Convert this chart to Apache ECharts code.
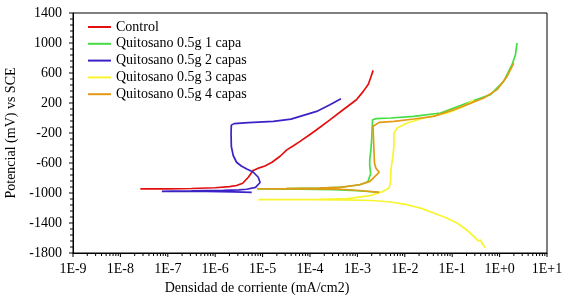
<!DOCTYPE html>
<html>
<head>
<meta charset="utf-8">
<script src="https://cdn.jsdelivr.net/npm/echarts@6/dist/echarts.min.js"></script>
<style>
  html, body { margin: 0; padding: 0; background: #fff; }
  #chart { width: 564px; height: 295px; }
</style>
</head>
<body>
<div id="chart"></div>
<script>
// series names
const names = ['Control', 'Quitosano 0.5g 1 capa', 'Quitosano 0.5g 2 capas', 'Quitosano 0.5g 3 capas', 'Quitosano 0.5g 4 capas']
const colors = ['#e30f0f', '#44dd44', '#3a22c6', '#f8f52e', '#e49a14']

// current density (mA/cm2) and potential (mV)
const controlI = [2.63e-8, 1.0e-7, 3.16e-7, 1.0e-6, 2.0e-6, 2.82e-6, 3.8e-6, 5.0e-6, 6.3e-6, 7.9e-6, 1.12e-5, 1.58e-5, 2.34e-5, 3.24e-5, 4.47e-5, 6.17e-5, 1.0e-4, 1.38e-4, 2.63e-4, 5.0e-4, 9.55e-4, 1.33e-3, 1.7e-3, 1.91e-3, 2.15e-3]
const controlE = [-945, -944, -940, -930, -915, -900, -870, -790, -700, -672, -640, -590, -510, -425, -370, -312, -220, -156, -25, 110, 244, 355, 450, 540, 635]

const capa1I = [2.82e-3, 1.0e-3, 3.16e-4, 6.3e-5, 7.9e-6, 3.16e-5, 1.58e-4, 5.0e-4, 1.12e-3, 1.66e-3, 1.91e-3, 1.82e-3, 1.82e-3, 1.91e-3, 2.0e-3, 2.04e-3, 2.09e-3, 2.5e-3, 5.0e-3, 1.55e-2, 5.66e-2, 0.206, 0.641, 1.22, 1.83, 2.16, 2.33]
const capa1E = [-990, -970, -955, -948, -945, -942, -935, -920, -890, -850, -740, -640, -556, -450, -289, -150, -23, -9, 0, 22, 67, 200, 311, 488, 711, 844, 1000]

const capa2I = [5.9e-6, 2.5e-6, 6.3e-7, 2.0e-7, 7.5e-8, 1.26e-7, 3.16e-7, 6.6e-7, 1.48e-6, 3.16e-6, 4.63e-6, 7.1e-6, 8.85e-6, 8.1e-6, 6.3e-6, 4.63e-6, 3.55e-6, 2.82e-6, 2.4e-6, 2.19e-6, 2.16e-6, 2.19e-6, 2.5e-6, 5.0e-6, 1.69e-5, 3.98e-5, 6.17e-5, 1.38e-4, 2.63e-4, 4.5e-4]
const capa2E = [-992, -985, -980, -979, -978, -975, -972, -968, -965, -958, -950, -925, -860, -790, -720, -680, -640, -590, -500, -380, -200, -95, -75, -62, -45, -15, 22, 88, 178, 257]

const capa3I = [0.5, 0.417, 0.398, 0.355, 0.286, 0.2, 0.127, 0.0741, 0.0407, 0.0224, 0.0112, 5.0e-3, 2.0e-3, 5.0e-4, 1.0e-4, 2.5e-5, 8.1e-6, 3.16e-5, 1.58e-4, 6.3e-4, 1.84e-3, 3.5e-3, 4.68e-3, 5.0e-3, 5.1e-3, 5.6e-3, 5.9e-3, 5.9e-3, 6.9e-3, 0.0112, 0.0251, 0.0782, 0.176, 0.286]
const capa3E = [-1733, -1660, -1628, -1638, -1578, -1490, -1400, -1330, -1267, -1205, -1156, -1120, -1100, -1092, -1090, -1089, -1089, -1087, -1085, -1075, -1036, -978, -933, -845, -689, -512, -378, -200, -133, -67, 0, 67, 155, 244]

const capa4I = [2.88e-3, 1.12e-3, 4.27e-4, 1.0e-4, 2.5e-5, 7.6e-6, 3.16e-5, 1.58e-4, 4.27e-4, 1.12e-3, 1.84e-3, 2.34e-3, 2.88e-3, 2.45e-3, 2.29e-3, 2.24e-3, 2.19e-3, 2.14e-3, 2.88e-3, 5.9e-3, 1.55e-2, 4.07e-2, 0.108, 0.206, 0.465, 0.885, 1.44, 1.99]
const capa4E = [-992, -967, -950, -947, -945, -943, -940, -935, -925, -890, -845, -778, -725, -667, -600, -450, -289, -111, -58, -45, -13, 22, 111, 178, 267, 378, 555, 733]

// axis ticks
const yTicks = [-1800, -1400, -1000, -600, -200, 200, 600, 1000, 1400]
const yMinorStep = 80
const xDecades = [1e-9, 1e-8, 1e-7, 1e-6, 1e-5, 1e-4, 1e-3, 1e-2, 1e-1, 1, 10]
const xMinorMult = [1, 2, 3, 4, 5, 6, 7, 8, 9]

const seriesI = [controlI, capa1I, capa2I, capa3I, capa4I]
const seriesE = [controlE, capa1E, capa2E, capa3E, capa4E]

const xMin = xDecades[0]
const yMin = yTicks[0]

// tick marks as small rect symbols placed on the axes through the scales
const tickData = []
for (let v = yTicks[0]; v <= yTicks[yTicks.length - 1]; v += yMinorStep) {
  const len = yTicks.includes(v) ? 4 : 3
  tickData.push({ value: [xMin, v], symbolSize: [len, 1], symbolOffset: [-len / 2, 0] })
}
const xTickValues = []
xDecades.slice(0, -1).forEach(d => xMinorMult.forEach(k => xTickValues.push([+(d * k).toPrecision(3), k === 1])))
xTickValues.push([xDecades[xDecades.length - 1], true])
xTickValues.forEach(([v, major]) => {
  const len = major ? 4 : 3
  tickData.push({ value: [v, yMin], symbolSize: [1, len], symbolOffset: [0, len / 2] })
})

const font = "'Liberation Serif', 'Times New Roman', serif"
const chart = echarts.init(document.getElementById('chart'))

chart.setOption({
  animation: false,
  grid: {
    left: 73, right: 17, top: 13, bottom: 42,
    show: true, borderColor: '#000', borderWidth: 1,
    outerBoundsMode: 'none'
  },
  legend: {
    orient: 'vertical',
    left: 87, top: 20, padding: 0,
    itemWidth: 23, itemHeight: 14, itemGap: 2.8,
    itemStyle: { opacity: 0 },
    lineStyle: { width: 2 },
    textStyle: { fontFamily: font, fontSize: 14, color: '#000' },
    data: names
  },
  xAxis: {
    type: 'log', logBase: 10, min: 1e-9, max: 10, splitNumber: 10,
    name: 'Densidad de corriente (mA/cm2)',
    nameLocation: 'middle', nameGap: 26,
    nameTextStyle: { fontFamily: font, fontSize: 14, color: '#000', padding: [0, 106, 0, 0] },
    axisLine: { show: true, onZero: false, lineStyle: { color: '#000', width: 1 } },
    axisTick: { show: false },
    axisLabel: {
      margin: 9, fontFamily: font, fontSize: 14, color: '#000',
      formatter: v => {
        const e = Math.round(Math.log10(v))
        return '1E' + (e >= 0 ? '+' : '') + e
      }
    },
    splitLine: { show: false }
  },
  yAxis: {
    type: 'value', min: -1800, max: 1400,
    name: 'Potencial (mV) vs SCE',
    nameLocation: 'middle', nameGap: 50, nameRotate: 90,
    nameTextStyle: { fontFamily: font, fontSize: 14, color: '#000' },
    axisLine: { show: true, onZero: false, lineStyle: { color: '#000', width: 1 } },
    axisTick: { show: false },
    axisLabel: {
      margin: 11, customValues: yTicks, fontFamily: font, fontSize: 14, color: '#000',
      formatter: v => String(v)
    },
    splitLine: { show: false }
  },
  series: names.map((name, s) => ({
    name,
    type: 'line',
    symbol: 'none',
    color: colors[s],
    lineStyle: { width: 1.7, color: colors[s] },
    data: seriesI[s].map((v, i) => [v, seriesE[s][i]])
  })).concat([{
    name: 'ticks',
    type: 'scatter',
    silent: true,
    clip: false,
    symbol: 'rect',
    itemStyle: { color: '#000', opacity: 1 },
    z: 5,
    data: tickData
  }])
})
</script>
</body>
</html>
